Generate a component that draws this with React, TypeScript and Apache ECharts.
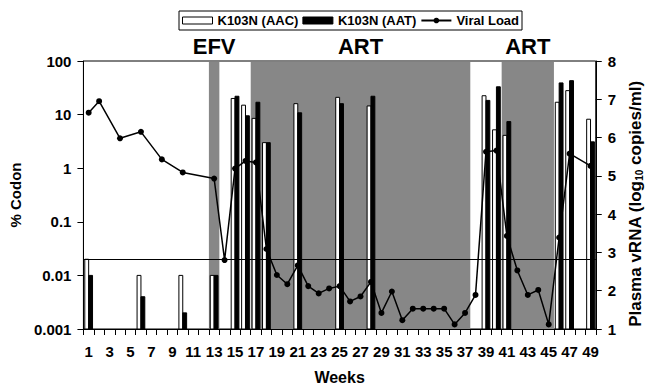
import React, { useEffect, useRef } from 'react';
import * as echarts from 'echarts';

const weeks = ['1','2','3','4','5','6','7','8','9','10','11','12','13','14','15','16','17','18','19','20','21','22','23','24','25','26','27','28','29','30','31','32','33','34','35','36','37','38','39','40','41','42','43','44','45','46','47','48','49'];

// % codon bars (K103N AAC / AAT)
const barWeeks = ['1','6','10','13','15','16','17','18','21','25','28','39','40','41','46','47','49'];
const aacPercent = [0.02, 0.01, 0.01, 0.01, 20, 15, 8.5, 3, 16, 21, 14.5, 22.5, 5.2, 4.1, 17, 28, 8.2];
const aatPercent = [0.01, 0.004, 0.002, 0.01, 22, 9.5, 17, 3, 10.8, 16, 22, 18.4, 33, 7.4, 39, 43, 3.1];

// viral load (log10 copies/ml)
const vlWeeks = ['1','2','4','6','8','10','13','14','15','16','17','18','19','20','21','22','23','24','25','26','27','28','29','30','31','32','33','34','35','36','37','38','39','40','41','42','43','44','45','46','47','49'];
const vlLog = [6.65, 6.95, 5.98, 6.15, 5.43, 5.09, 4.93, 2.8, 5.19, 5.39, 5.35, 3.09, 2.41, 2.17, 2.66, 2.12, 1.93, 2.06, 2.12, 1.72, 1.85, 2.23, 1.42, 1.98, 1.23, 1.53, 1.53, 1.53, 1.53, 1.12, 1.42, 1.89, 5.63, 5.66, 3.43, 2.53, 1.89, 2.02, 1.12, 3.39, 5.58, 5.26];

const detectionLimit = 0.02;

// treatment periods
const regionStart = ['13', '17', '41'];
const regionEnd = ['13', '37', '45'];
const regionLabel = ['EFV', 'ART', 'ART'];

const FONT = '"Liberation Sans", Arial, Helvetica, sans-serif';

function makeBarRender(side: 'left' | 'right', fill: string) {
  return (params: any, api: any) => {
    const idx = api.value(0);
    const top = api.coord([idx, api.value(1)]);
    const base = api.coord([idx, 0.001]);
    const bw = api.size([1, 0])[0] * 0.37;
    const x = side === 'left' ? top[0] - bw : top[0];
    return {
      type: 'rect',
      shape: { x, y: top[1], width: bw, height: base[1] - top[1] },
      style: { fill, stroke: '#000', lineWidth: 1 },
    };
  };
}

export default function App() {
  const ref = useRef<HTMLDivElement>(null);
  useEffect(() => {
    if (!ref.current) return;
    const chart = echarts.init(ref.current, undefined, { renderer: 'svg' });
    const option: any = {
      animation: false,
      backgroundColor: '#fff',
      textStyle: { fontFamily: FONT, color: '#000' },
      legend: {
        left: 179,
        top: 11,
        itemWidth: 30,
        itemHeight: 7,
        itemGap: 4,
        padding: [3, 3, 3, 3],
        borderColor: '#000',
        borderWidth: 1,
        textStyle: { fontFamily: FONT, fontWeight: 'bold', fontSize: 13, color: '#000' },
        data: [
          { name: 'K103N (AAC)', icon: 'rect', itemStyle: { color: '#fff', borderColor: '#000', borderWidth: 1 } },
          { name: 'K103N (AAT)', icon: 'rect', itemStyle: { color: '#000', borderColor: '#000', borderWidth: 1 } },
          { name: 'Viral Load' },
        ],
      },
      grid: { left: 82, right: 47, top: 61, bottom: 56, show: true, borderColor: '#000', borderWidth: 1, backgroundColor: 'transparent' },
      xAxis: {
        type: 'category',
        data: weeks,
        name: 'Weeks',
        nameLocation: 'middle',
        nameGap: 40,
        nameTextStyle: { fontFamily: FONT, fontWeight: 'bold', fontSize: 16, color: '#000' },
        axisLine: { show: true, lineStyle: { color: '#000', width: 1 } },
        axisTick: { show: true, interval: 0, length: 6, lineStyle: { color: '#000' } },
        axisLabel: { interval: 1, margin: 15, fontFamily: FONT, fontWeight: 'bold', fontSize: 15, color: '#000' },
        splitLine: { show: false },
      },
      yAxis: [
        {
          type: 'log',
          logBase: 10,
          min: 0.001,
          max: 100,
          name: '% Codon',
          nameLocation: 'middle',
          nameRotate: 90,
          nameGap: 56,
          nameTextStyle: { fontFamily: FONT, fontWeight: 'bold', fontSize: 15, color: '#000' },
          axisLine: { show: true, lineStyle: { color: '#000', width: 1 } },
          axisTick: { show: true, length: 6, lineStyle: { color: '#000' } },
          axisLabel: {
            margin: 12,
            fontFamily: FONT,
            fontWeight: 'bold',
            fontSize: 15,
            color: '#000',
            formatter: (v: number) => String(Number(v.toPrecision(2))),
          },
          splitLine: { show: false },
        },
        {
          type: 'value',
          min: 1,
          max: 8,
          interval: 1,
          position: 'right',
          name: 'Plasma vRNA (log{s|10} copies/ml)',
          nameLocation: 'middle',
          nameRotate: 90,
          nameGap: 26,
          nameTextStyle: {
            fontFamily: FONT,
            fontWeight: 'bold',
            fontSize: 17,
            color: '#000',
            padding: [0, 18, 0, 0],
            rich: { s: { fontFamily: FONT, fontWeight: 'bold', fontSize: 10, color: '#000', verticalAlign: 'bottom' } },
          },
          axisLine: { show: true, lineStyle: { color: '#000', width: 1 } },
          axisTick: { show: true, length: 6, lineStyle: { color: '#000' } },
          axisLabel: { margin: 12, fontFamily: FONT, fontWeight: 'bold', fontSize: 15, color: '#000' },
          splitLine: { show: false },
        },
      ],
      series: [
        {
          name: 'periods',
          type: 'custom',
          clip: false,
          z: 1,
          silent: true,
          encode: { x: [0, 1], y: 2 },
          data: regionStart.map((s, i) => [s, regionEnd[i], 100]),
          renderItem: (params: any, api: any) => {
            const s = api.coord([api.value(0), 100]);
            const e = api.coord([api.value(1), 100]);
            const bw = api.size([1, 0])[0];
            const cs = params.coordSys;
            const x0 = s[0] - bw / 2;
            const x1 = e[0] + bw / 2;
            return {
              type: 'group',
              children: [
                { type: 'rect', shape: { x: x0, y: cs.y + 1, width: x1 - x0, height: cs.height - 1 }, style: { fill: '#878787' } },
                {
                  type: 'text',
                  x: (x0 + x1) / 2,
                  y: cs.y - 15,
                  style: {
                    text: regionLabel[params.dataIndex],
                    fill: '#000',
                    fontFamily: FONT,
                    fontWeight: 'bold',
                    fontSize: 22,
                    align: 'center',
                    verticalAlign: 'middle',
                  },
                },
              ],
            };
          },
          markLine: {
            silent: true,
            symbol: 'none',
            label: { show: false },
            lineStyle: { color: '#000', width: 1, type: 'solid' },
            data: [{ yAxis: detectionLimit }],
          },
        },
        {
          name: 'K103N (AAC)',
          type: 'custom',
          z: 2,
          itemStyle: { color: '#fff', borderColor: '#000' },
          encode: { x: 0, y: 1 },
          data: barWeeks.map((w, i) => [w, aacPercent[i]]),
          renderItem: makeBarRender('left', '#fff'),
        },
        {
          name: 'K103N (AAT)',
          type: 'custom',
          z: 2,
          itemStyle: { color: '#000' },
          encode: { x: 0, y: 1 },
          data: barWeeks.map((w, i) => [w, aatPercent[i]]),
          renderItem: makeBarRender('right', '#000'),
        },
        {
          name: 'Viral Load',
          type: 'line',
          yAxisIndex: 1,
          z: 5,
          symbol: 'circle',
          symbolSize: 6,
          itemStyle: { color: '#000' },
          lineStyle: { color: '#000', width: 1.5 },
          data: vlWeeks.map((w, i) => [w, vlLog[i]]),
        },
      ],
    };
    chart.setOption(option);
    return () => chart.dispose();
  }, []);
  return <div ref={ref} style={{ position: 'absolute', left: 0, top: 0, width: 652, height: 390, background: '#fff' }} />;
}
